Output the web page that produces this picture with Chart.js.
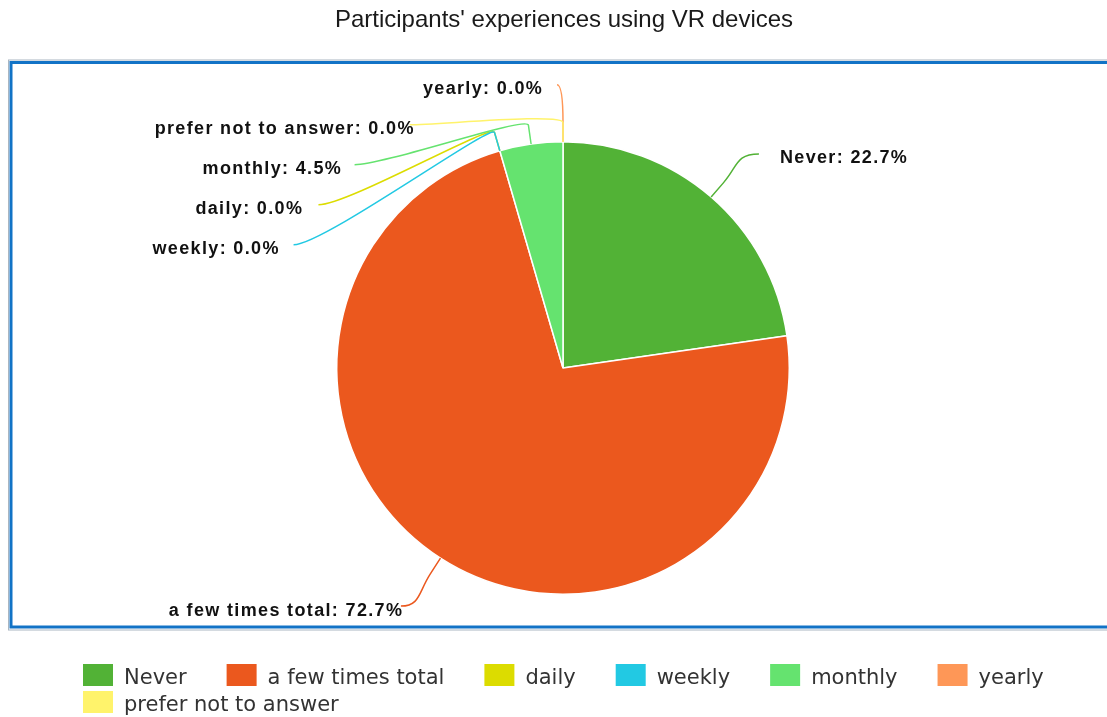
<!DOCTYPE html>
<html>
<head>
<meta charset="utf-8">
<script src="https://cdn.jsdelivr.net/npm/chart.js@4.4.1/dist/chart.umd.min.js"></script>
<style>
  html, body { margin: 0; padding: 0; background: #ffffff; overflow: hidden; }
  canvas { display: block; }
</style>
</head>
<body>
<canvas id="vrChart" width="1107" height="717"></canvas>
<script>
// Survey answers: how often participants have used VR devices (share of participants, %)
const chartTitle = "Participants' experiences using VR devices";
const categories = ['Never', 'a few times total', 'daily', 'weekly', 'monthly', 'yearly', 'prefer not to answer'];
const shares = [22.7, 72.7, 0.0, 0.0, 4.5, 0.0, 0.0];
const sliceColors = ['#52b236', '#eb581e', '#dcdc00', '#22c9e3', '#65e36f', '#fe9757', '#fff36b'];

// Blue frame drawn behind the plot
const framePlugin = {
  id: 'frame',
  beforeDraw(chart) {
    const ctx = chart.ctx;
    ctx.save();
    ctx.strokeStyle = '#a9b6c2';
    ctx.lineWidth = 1;
    ctx.strokeRect(8.5, 60, 1200, 570);
    ctx.strokeStyle = '#1273c6';
    ctx.lineWidth = 3;
    ctx.strokeRect(11, 62.5, 1200, 564.5);
    ctx.restore();
  }
};

// Slice labels with curved leader lines, stacked on an ellipse around the pie
const sliceLabelPlugin = {
  id: 'sliceLabels',
  afterDatasetsDraw(chart) {
    const ctx = chart.ctx;
    const arcs = chart.getDatasetMeta(0).data;
    const values = chart.data.datasets[0].data;
    const cx = arcs[0].x, cy = arcs[0].y, R = arcs[0].outerRadius;
    const rx = R + 73, ry = R + 57;
    const spacing = 40, ext = 29;

    const items = arcs.map((a, i) => {
      const mid = (a.startAngle + a.endAngle) / 2;
      const dx = Math.cos(mid), dy = Math.sin(mid);
      return { i, dx, dy, left: dx <= 1e-9, y: cy + dy * ry };
    });

    [true, false].forEach(side => {
      const group = items.filter(it => it.left === side)
        .sort((a, b) => (a.y - b.y) || (a.i - b.i));
      for (let k = 1; k < group.length; k++) {
        group[k].y = Math.max(group[k].y, group[k - 1].y + spacing);
      }
    });

    ctx.save();
    ctx.font = 'bold 18px "Liberation Sans", Arial, sans-serif';
    items.forEach(it => {
      const t = Math.max(-1, Math.min(1, (it.y - cy) / ry));
      const half = rx * Math.sqrt(1 - t * t);
      const tx = it.left ? Math.min(cx - half, cx - 6) : Math.max(cx + half, cx + 6);
      const ty = it.y;
      const lx = cx + it.dx * R, ly = cy + it.dy * R;
      const ax = cx + it.dx * (R + ext - 10), ay = cy + it.dy * (R + ext - 10);
      const ex = cx + it.dx * (R + ext), ey = cy + it.dy * (R + ext);
      // keep following the radius when the label lies straight ahead
      const vx = tx - ex, vy = ty - ey, vl = Math.hypot(vx, vy) || 1;
      const along = Math.max(0, (vx * it.dx + vy * it.dy) / vl);
      const c1x = ex + it.dx * 12 * along, c1y = ey + it.dy * 12 * along;
      const off = Math.max(4, Math.min(30, Math.abs(tx - ex) * 0.8));
      const c2x = tx + (it.left ? off : -off);

      ctx.strokeStyle = sliceColors[it.i];
      ctx.lineWidth = 1.5;
      ctx.beginPath();
      ctx.moveTo(lx, ly);
      ctx.lineTo(ax, ay);
      ctx.bezierCurveTo(c1x, c1y, c2x, ty, tx, ty);
      ctx.stroke();

      const text = categories[it.i] + ': ' + Number(values[it.i]).toFixed(1) + '%';
      ctx.letterSpacing = '0px';
      const w0 = ctx.measureText(text).width;
      const x0 = it.left ? tx - 30 - w0 : tx + 21;
      ctx.letterSpacing = '1.35px';
      ctx.fillStyle = '#111111';
      ctx.textAlign = 'left';
      ctx.textBaseline = 'alphabetic';
      ctx.fillText(text, x0, ty + 9.5);
    });
    ctx.restore();
  }
};

// Title and wrapped legend
const titleLegendPlugin = {
  id: 'titleLegend',
  afterDraw(chart) {
    const ctx = chart.ctx;
    const arc0 = chart.getDatasetMeta(0).data[0];
    const cx = arc0.x;
    ctx.save();
    ctx.letterSpacing = '0px';
    ctx.fillStyle = '#1a1a1a';
    ctx.font = '24px "Liberation Sans", Arial, sans-serif';
    ctx.textAlign = 'center';
    ctx.textBaseline = 'alphabetic';
    ctx.fillText(chartTitle, cx + 1, 27);

    ctx.font = '21px "DejaVu Sans", Verdana, sans-serif';
    const boxW = 30, boxH = 22, textGap = 11, itemGap = 40, rowH = 27, maxW = 1000;
    const widths = categories.map(c => boxW + textGap + ctx.measureText(c).width);
    const rows = [[]];
    let rowW = 0;
    widths.forEach((w, i) => {
      const add = (rows[rows.length - 1].length ? itemGap : 0) + w;
      if (rows[rows.length - 1].length && rowW + add > maxW) {
        rows.push([i]);
        rowW = w;
      } else {
        rows[rows.length - 1].push(i);
        rowW += add;
      }
    });
    const rowWidths = rows.map(r => r.reduce((s, i, k) => s + widths[i] + (k ? itemGap : 0), 0));
    const startX = Math.round(cx - Math.max(...rowWidths) / 2);
    ctx.textAlign = 'left';
    ctx.textBaseline = 'middle';
    rows.forEach((r, ri) => {
      let x = startX;
      const y = 664 + ri * rowH;
      r.forEach(i => {
        ctx.fillStyle = sliceColors[i];
        ctx.fillRect(x, y, boxW, boxH);
        ctx.fillStyle = '#333333';
        ctx.fillText(categories[i], x + boxW + textGap, y + boxH / 2 + 4);
        x += widths[i] + itemGap;
      });
    });
    ctx.restore();
  }
};

new Chart(document.getElementById('vrChart'), {
  type: 'pie',
  data: {
    labels: categories,
    datasets: [{
      data: shares,
      backgroundColor: sliceColors,
      borderColor: '#ffffff',
      borderWidth: 1.5
    }]
  },
  options: {
    responsive: false,
    animation: false,
    layout: { padding: { left: 300, right: 281, top: 141, bottom: 122 } },
    plugins: {
      legend: { display: false },
      title: { display: false },
      tooltip: { enabled: false }
    }
  },
  plugins: [framePlugin, sliceLabelPlugin, titleLegendPlugin]
});
</script>
</body>
</html>
